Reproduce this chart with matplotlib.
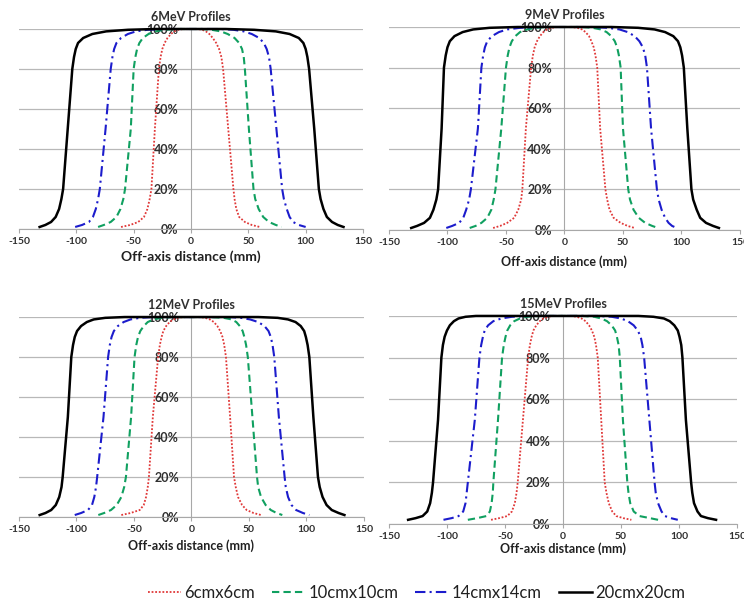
import matplotlib.pyplot as plt

plt.rcParams['font.family'] = ['Lato', 'DejaVu Sans']

fields = ['6cmx6cm', '10cmx10cm', '14cmx14cm', '20cmx20cm']
titles = ['6MeV Profiles', '9MeV Profiles', '12MeV Profiles', '15MeV Profiles']

levels_6 = [1, 2, 3.5, 6, 10, 15, 20, 50, 80, 86, 90, 93, 95.5, 97.5, 98.8, 99.6, 100]
levels_9 = [1, 2, 3.5, 6, 10, 15, 20, 50, 80, 86, 90, 93, 95.5, 97.5, 98.8, 99.6, 100]
levels_12 = [1, 2, 3.5, 6, 10, 15, 20, 50, 80, 86, 90, 93, 95.5, 97.5, 98.8, 99.6, 100]
levels_15 = [2, 2.8, 3.8, 6, 10, 15, 20, 50, 80, 86, 90, 93, 95.5, 97.5, 98.8, 99.6, 100]

# off-axis distance (mm) of the left / right edge at those levels
e6_left = [[-61, -53, -46, -41, -38, -36, -34.5, -31.5, -28, -26.5, -25, -23, -20.5, -17.5, -14.5, -11, -7],
           [-81, -76, -70, -65, -61.5, -59, -57.5, -52.5, -50, -48.5, -47, -45, -42, -37, -31, -23, -12],
           [-101, -95, -89, -85.5, -83, -81, -79.5, -74.5, -70, -68.5, -67, -65, -61, -55, -48, -38, -22],
           [-132, -127, -122, -118, -115, -113, -111.5, -107.5, -103.5, -102, -100.5, -98.5, -94, -86, -74, -55, -30]]
e6_right = [[60, 53, 47, 42, 39.5, 38, 37, 32.5, 28, 26.5, 24.5, 22, 19, 16, 13, 10, 6],
            [79, 74, 68, 63, 59, 56, 54.5, 50.5, 47, 46, 44.5, 42, 38, 32, 26, 18, 9],
            [100, 94, 89, 86, 83.5, 81, 79.5, 74.5, 69.5, 68, 66, 63.5, 59.5, 53, 46, 37, 25],
            [133, 128, 123, 118.5, 115.5, 113, 111.5, 107.5, 103, 101.5, 100, 98, 94, 86, 74, 55, 30]]

e9_left = [[-61, -55, -49, -43, -39.5, -37, -36, -33, -28.5, -27, -25.5, -23.5, -21, -18, -15, -11, -6],
           [-81, -76, -71, -66, -62.5, -60.5, -59, -54, -50, -48.5, -47, -45, -42, -38, -32, -25, -15],
           [-101, -96, -90, -86.5, -84, -81.5, -80, -74, -71, -69.5, -68, -66, -62, -56, -49, -38, -22],
           [-131, -126, -120, -115, -112, -109.5, -108, -105, -103, -101.5, -100, -98, -94, -87, -78, -64, -40]]
e9_right = [[60, 54, 48, 42, 38.5, 36.5, 35, 30.5, 28, 26.5, 25, 23, 21, 18, 15, 11, 6],
            [80, 75, 69, 63.5, 59, 56, 54.5, 50, 48, 46.5, 45, 43, 40, 36, 31, 24, 15],
            [96, 92, 89, 86, 83, 80.5, 79, 74, 70.5, 69, 67, 64, 60, 54, 47, 37, 24],
            [132, 127, 121, 116, 113, 110, 108.5, 105, 102, 100.5, 99, 97, 93, 86, 77, 63, 40]]

e12_left = [[-61, -53, -45, -41.5, -39.5, -38, -37, -33.6, -29, -27.5, -26, -24.5, -22, -19, -16, -12, -7],
            [-81, -76, -70, -65, -61, -58.5, -57, -52.5, -49.5, -48, -46.5, -44.5, -41.5, -38, -33, -26, -16],
            [-101.5, -96, -90, -86.5, -84.5, -83, -82, -76.5, -72.5, -71, -69.5, -67.5, -64, -59, -53, -45, -33],
            [-132, -127, -122, -118, -115, -113, -112, -107.5, -104.5, -103, -101.5, -99.5, -96, -91, -85, -75, -58]]
e12_right = [[60.5, 54, 48, 44, 40.5, 38.5, 37, 33.6, 30, 28.5, 27, 25, 22.5, 19.5, 16, 12, 7],
             [79, 74, 69, 64.5, 60.5, 58, 57, 53, 49, 47.5, 46, 44.5, 42, 39, 35, 28, 16],
             [102.5, 97, 91, 87, 84, 82, 81, 76, 72, 70.5, 69, 67, 63.5, 58, 51, 43, 33],
             [133, 128, 122, 117.5, 114, 111.5, 110, 106, 102.5, 101, 99.5, 98, 95, 90.5, 84, 75, 58]]

e15_left = [[-62, -55, -48, -44, -41.5, -40, -39, -34.5, -30, -28.5, -27, -25.5, -23, -20, -17, -13, -8],
            [-82, -74, -66, -63, -61.5, -60.5, -60, -56, -52.5, -51, -49.5, -48, -45.5, -42, -37, -31, -20],
            [-103, -96, -90, -86, -84, -83, -82, -76, -72, -70.5, -69, -67.5, -64.5, -60, -53, -44, -30],
            [-133.5, -127, -121, -117, -114.5, -113, -112, -107.7, -104.8, -103.5, -102, -100, -97.5, -94, -90, -84, -75]]
e15_right = [[59, 52, 46, 42.5, 39.5, 37.5, 36, 33, 30, 28.5, 27, 25, 22.5, 19.5, 16, 12, 7],
             [82, 75, 66, 61, 58, 56.5, 55.5, 51.7, 49, 48, 46.5, 45, 42, 38, 33, 27, 17],
             [99, 93, 88, 85, 82, 80, 79, 74.5, 70, 68.5, 67, 64.5, 61, 56, 50, 42, 30],
             [132, 125, 119, 116, 113, 111.5, 110.5, 106, 103, 102, 100.5, 99, 96, 92, 87, 78, 65]]

panels = [(levels_6, e6_left, e6_right), (levels_9, e9_left, e9_right),
          (levels_12, e12_left, e12_right), (levels_15, e15_left, e15_right)]

colors = ['#e03838', '#10a060', '#1c1ccc', 'black']
styles = [dict(ls=(0, (1, 1)), lw=1.3), dict(ls=(0, (3.5, 2)), lw=1.5),
          dict(ls=(0, (5, 2, 1, 2)), lw=1.5), dict(ls='-', lw=1.8)]

rects = [[0.0255, 0.6209, 0.4624, 0.3311],
         [0.5228, 0.6192, 0.4718, 0.3361],
         [0.0255, 0.1440, 0.4637, 0.3311],
         [0.5228, 0.1325, 0.4677, 0.3444]]
label_off = [-0.14, -0.158, -0.145, -0.12]

fig = plt.figure(figsize=(7.44, 6.04), dpi=100)
lines = []
for k, (lev, left, right) in enumerate(panels):
    ax = fig.add_axes(rects[k])
    ax.set_axisbelow(True)
    for i in range(4):
        xs = left[i] + right[i][::-1]
        ys = lev + lev[::-1]
        ln, = ax.plot(xs, ys, color=colors[i], clip_on=False, zorder=3,
                      solid_joinstyle='round', **styles[i])
        if k == 0:
            lines.append(ln)
    ax.set_xlim(-150, 150)
    ax.set_ylim(0, 100)
    for sp in ['top', 'right']:
        ax.spines[sp].set_visible(False)
    ax.spines['left'].set_position(('data', 0))
    ax.spines['left'].set_color('#a8a8a8')
    ax.spines['bottom'].set_color('#a8a8a8')
    ax.set_xticks(range(-150, 151, 50))
    ax.set_yticks(range(0, 101, 20))
    ax.set_yticklabels([f'{v}%' for v in range(0, 101, 20)], fontsize=9, fontweight='bold',
                       color='#303030')
    ax.set_xticklabels([str(v) for v in range(-150, 151, 50)], fontsize=7.5, fontweight='bold',
                       color='#303030')
    ax.yaxis.grid(True, color='#b8b8b8', lw=0.9)
    ax.tick_params(axis='y', length=0, pad=9)
    ax.tick_params(axis='x', length=3, color='#a8a8a8', pad=3)
    ax.set_title(titles[k], fontsize=9, fontweight='bold', color='#303030', pad=6)
    ax.set_xlabel('Off-axis distance (mm)', fontsize=9 if k else 10,
                  fontweight='bold', color='#202020')
    ax.xaxis.set_label_coords(0.5, label_off[k])
    ax.xaxis.label.set_va('center')

fig.legend(lines, fields, loc='center', bbox_to_anchor=(0.56, 0.018), ncol=4,
           frameon=False, fontsize=12, handlelength=2.0, columnspacing=1.0,
           handletextpad=0.2, labelcolor='#202020')

fig.savefig('out.png', dpi=100)
